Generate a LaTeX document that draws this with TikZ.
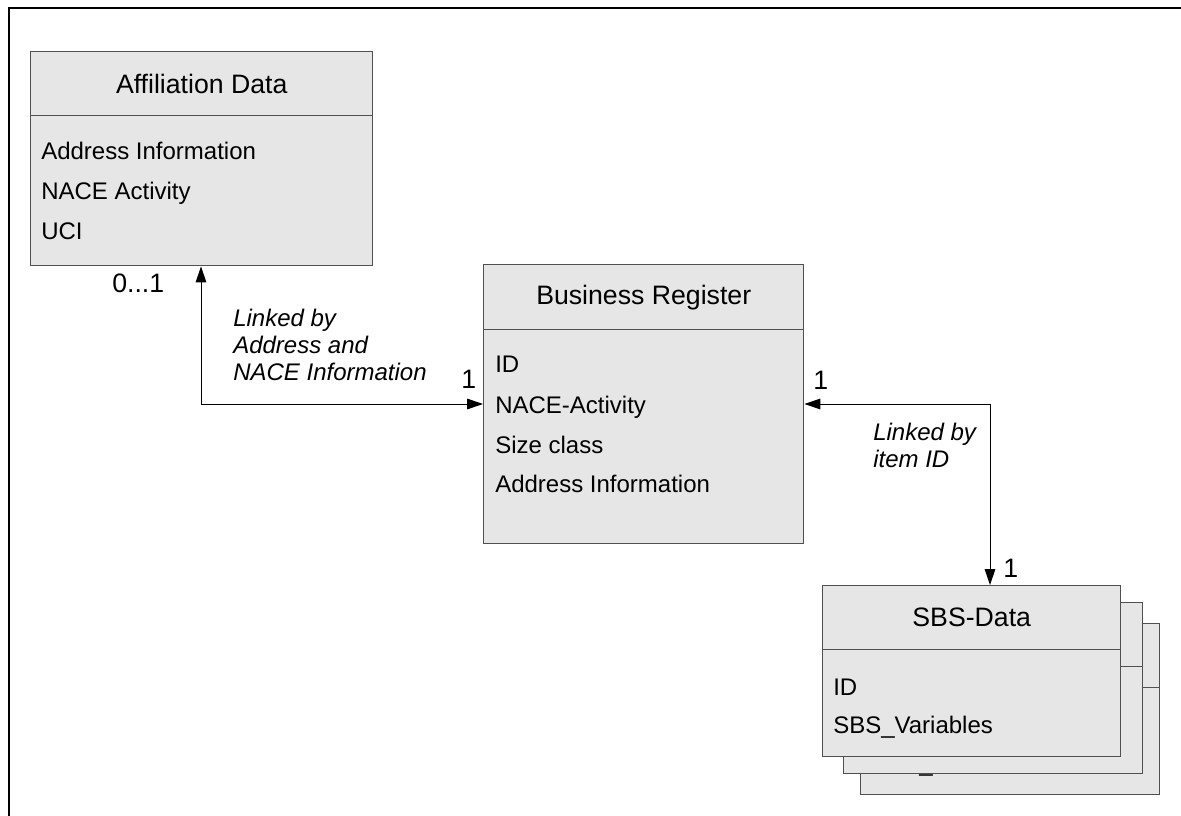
\documentclass[tikz,border=0pt]{standalone}
\usepackage{fontspec}
\setmainfont{Liberation Sans}
\usetikzlibrary{arrows.meta}
\definecolor{boxfill}{RGB}{230,230,230}
\definecolor{boxline}{RGB}{80,80,80}
\begin{document}
\begin{tikzpicture}[x=0.75pt,y=-0.75pt,
  ubox/.style 2 args={draw=boxline, fill=boxfill, line width=1.1pt, inner sep=0pt,
    anchor=north west, minimum width=#1, minimum height=#2,
    font=\fontsize{20}{24}\selectfont},
  item/.style={anchor=base west, inner sep=0pt, font=\fontsize{18}{20}\selectfont},
  lbl/.style={anchor=base west, inner sep=0pt, font=\fontsize{18}{20}\selectfont\itshape},
  mult/.style={anchor=base west, inner sep=0pt, font=\fontsize{20}{24}\selectfont},
  link/.style={{Triangle[length=12pt,width=8pt]}-{Triangle[length=12pt,width=8pt]}, line width=0.75pt, black}
]
\useasboundingbox (0,0) rectangle (1181,816);
% frame
\draw[line width=1.6pt] (8.7,816) -- (8.7,7.7) -- (1181,7.7);

% Affiliation Data
\node[ubox={256.5pt}{48pt}] (aff-h) at (30,51) {Affiliation Data};
\node[ubox={256.5pt}{112.5pt}] (aff-b) at (30,115) {};
\node[item] (aff-i1) at (41,160) {Address Information};
\node[item] (aff-i2) at (41,200) {NACE Activity};
\node[item] (aff-i3) at (41,240) {UCI};

% Business Register
\node[ubox={240pt}{48.75pt}] (biz-h) at (483,264) {Business Register};
\node[ubox={240pt}{160.5pt}] (biz-b) at (483,329) {};
\node[item] (biz-i1) at (495,373) {ID};
\node[item] (biz-i2) at (495,413) {NACE-Activity};
\node[item] (biz-i3) at (495,453) {Size class};
\node[item] (biz-i4) at (495,492) {Address Information};

% SBS stack (back to front)
\node[ubox={224.25pt}{48pt}] (sbs3-h) at (860,623) {};
\node[ubox={224.25pt}{80.25pt}] (sbs3-b) at (860,687) {};
\node[item] (sbs3-u) at (919,771) {\_};
\node[ubox={224.25pt}{48pt}] (sbs2-h) at (843,602) {};
\node[ubox={224.25pt}{80.25pt}] (sbs2-b) at (843,666) {};
\node[ubox={223.5pt}{48pt}] (sbs-h) at (822,585) {SBS-Data};
\node[ubox={223.5pt}{80.25pt}] (sbs-b) at (822,649) {};
\node[item] (sbs-i1) at (833,695) {ID};
\node[item] (sbs-i2) at (833,733) {SBS\_Variables};

% connectors
\path (aff-b.south west) ++(171,0) coordinate (aA);
\path (biz-b.north west) ++(0,75) coordinate (bL);
\path (biz-b.north east) ++(0,75) coordinate (bR);
\path (sbs-h.north west) ++(168,0) coordinate (sA);
\draw[link] (aA) |- (bL);
\draw[link] (bR) -| (sA);

% multiplicities
\node[mult] (m1) at (112,293) {0...1};
\node[mult] (m2) at (461,388) {1};
\node[mult] (m3) at (813,389) {1};
\node[mult] (m4) at (1003,577) {1};

% link labels
\node[lbl] (l1a) at (233,327) {Linked by};
\node[lbl] (l1b) at (233,353.5) {Address and};
\node[lbl] (l1c) at (233,380) {NACE Information};
\node[lbl] (l2a) at (873,440) {Linked by};
\node[lbl] (l2b) at (873,467) {item ID};
\end{tikzpicture}
\end{document}
